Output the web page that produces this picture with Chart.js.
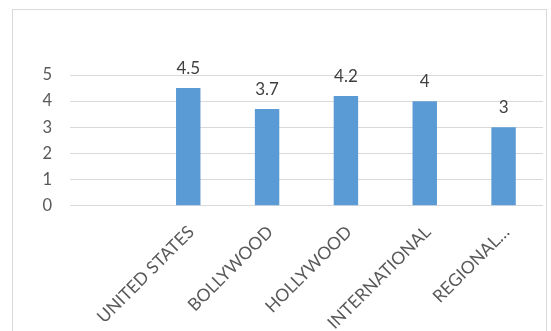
<!DOCTYPE html>
<html>
<head>
<meta charset="utf-8">
<script src="https://cdn.jsdelivr.net/npm/chart.js@4/dist/chart.umd.min.js"></script>
<style>
  html, body { margin: 0; padding: 0; background: #ffffff; overflow: hidden; }
  #wrap { position: relative; width: 551px; height: 331px; }
</style>
</head>
<body>
<div id="wrap"><canvas id="chart" width="551" height="331"></canvas></div>
<script>
// Ratings per film market (first slot left empty)
const categories = ['', 'UNITED STATES', 'BOLLYWOOD', 'HOLLYWOOD', 'INTERNATIONAL', 'REGIONAL…'];
const ratings = [null, 4.5, 3.7, 4.2, 4, 3];
const yTicks = [0, 1, 2, 3, 4, 5];

const FONT = 'Lato, "Liberation Sans", sans-serif';

// Light frame around the chart
const framePlugin = {
  id: 'frame',
  beforeDraw(chart) {
    const ctx = chart.ctx;
    ctx.save();
    ctx.strokeStyle = '#d9d9d9';
    ctx.lineWidth = 1;
    ctx.strokeRect(12.5, 9.5, 534, 400);
    ctx.restore();
  }
};

// Value labels above each bar
const valueLabels = {
  id: 'valueLabels',
  afterDatasetsDraw(chart) {
    const ctx = chart.ctx;
    const meta = chart.getDatasetMeta(0);
    ctx.save();
    ctx.font = '17px ' + FONT;
    ctx.fillStyle = '#404040';
    ctx.textAlign = 'center';
    ctx.textBaseline = 'alphabetic';
    meta.data.forEach((bar, i) => {
      const v = ratings[i];
      if (v === null || v === undefined) return;
      ctx.fillText(String(v), bar.x, bar.y - 14);
    });
    ctx.restore();
  }
};

new Chart(document.getElementById('chart'), {
  type: 'bar',
  data: {
    labels: categories,
    datasets: [{
      data: ratings,
      backgroundColor: '#5b9bd5',
      borderWidth: 0,
      categoryPercentage: 1,
      barPercentage: 0.31
    }]
  },
  options: {
    responsive: false,
    animation: false,
    events: [],
    layout: { padding: { left: 0, right: 8, top: 75, bottom: 0 } },
    plugins: { legend: { display: false }, tooltip: { enabled: false } },
    scales: {
      x: {
        grid: { display: false, drawTicks: false },
        border: { display: false },
        ticks: {
          color: '#595959',
          font: { family: FONT, size: 17.5 },
          minRotation: 45,
          maxRotation: 45,
          autoSkip: false,
          padding: 16,
          labelOffset: 3
        },
        afterFit(scale) { scale.height = 125.3; }
      },
      y: {
        min: 0,
        max: 5,
        grid: { color: '#d9d9d9', lineWidth: 1, drawTicks: false },
        border: { display: false },
        afterBuildTicks(scale) { scale.ticks = yTicks.map(v => ({ value: v })); },
        ticks: {
          color: '#595959',
          font: { family: FONT, size: 16.5 },
          padding: 18
        },
        afterFit(scale) { scale.width = 70; }
      }
    }
  },
  plugins: [framePlugin, valueLabels]
});
</script>
</body>
</html>
